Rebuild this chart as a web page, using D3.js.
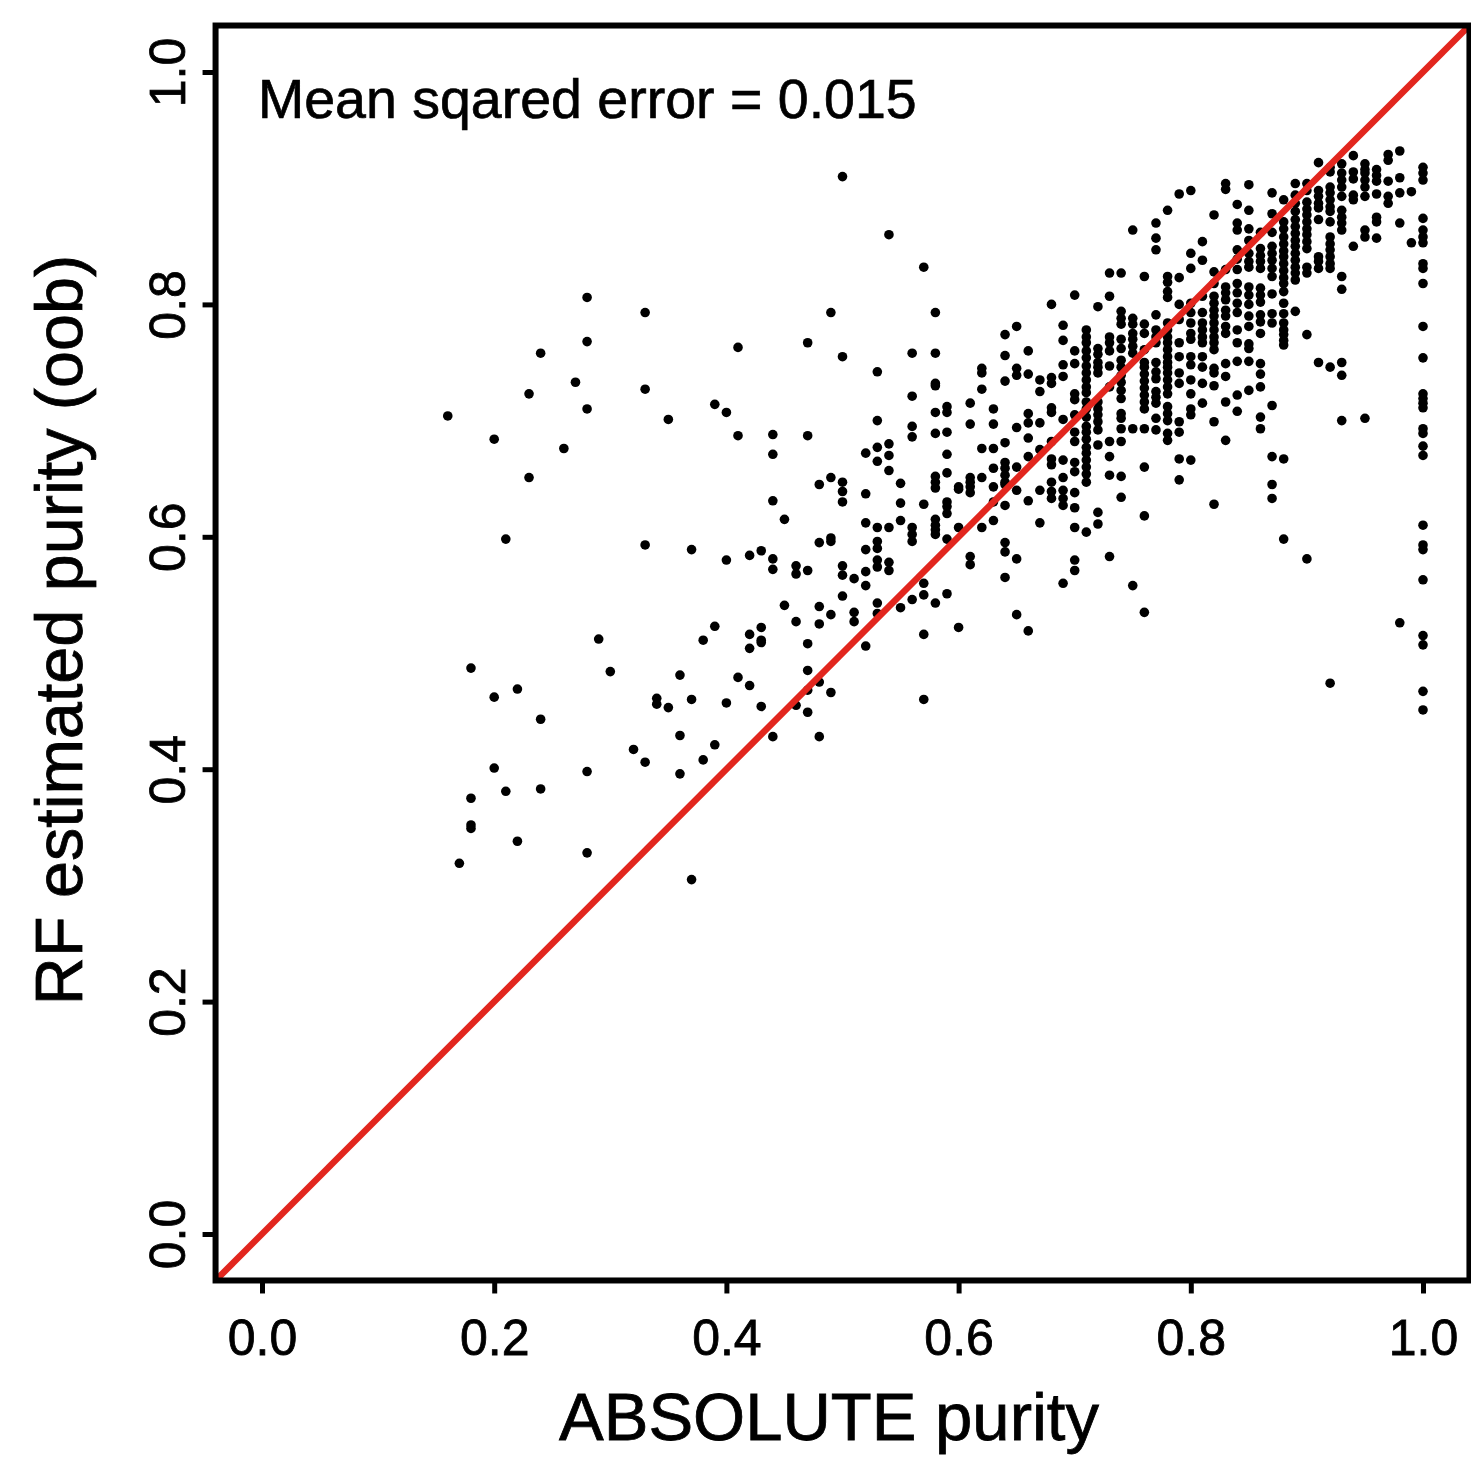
<!DOCTYPE html>
<html>
<head>
<meta charset="utf-8">
<script src="https://cdn.jsdelivr.net/npm/d3@7/dist/d3.min.js"></script>
<style>
  html, body { margin: 0; padding: 0; background: #ffffff; }
  svg { display: block; }
  text { font-family: "Liberation Sans", Arial, Helvetica, sans-serif; }
</style>
</head>
<body>
<svg id="chart" width="1471" height="1464"></svg>
<script>
// ---- data: ABSOLUTE purity levels (x) and RF estimated purity values (y) per level ----
const absoluteLevels = [
  0.16,0.17,0.18,0.20,0.21,0.22,0.23,0.24,0.26,0.27,0.28,0.29,0.30,0.32,0.33,0.34,0.35,0.36,0.37,0.38,
  0.39,0.40,0.41,0.42,0.43,0.44,0.45,0.46,0.47,0.48,0.49,0.50,0.51,0.52,0.53,0.54,0.55,0.56,0.57,0.58,
  0.59,0.60,0.61,0.62,0.63,0.64,0.65,0.66,0.67,0.68,0.69,0.70,0.71,0.72,0.73,0.74,0.75,0.76,0.77,0.78,
  0.79,0.80,0.81,0.82,0.83,0.84,0.85,0.86,0.87,0.88,0.89,0.90,0.91,0.92,0.93,0.94,0.95,0.96,0.97,0.98,
  0.99,1.00
];
const rfEstimates = [
  [0.704],
  [0.319],
  [0.487,0.375,0.352,0.349],
  [0.684,0.462,0.401],
  [0.598,0.381],
  [0.469,0.338],
  [0.723,0.651],
  [0.758,0.443,0.383],
  [0.676],
  [0.733],
  [0.806,0.768,0.710,0.398,0.328],
  [0.512],
  [0.484],
  [0.417],
  [0.793,0.727,0.593,0.406],
  [0.461,0.456],
  [0.701,0.453],
  [0.481,0.429,0.396],
  [0.589,0.460,0.305],
  [0.511,0.408],
  [0.714,0.523,0.421],
  [0.707,0.580,0.457],
  [0.763,0.687,0.479],
  [0.584,0.516,0.504,0.472],
  [0.588,0.522,0.511,0.509,0.454],
  [0.688,0.671,0.631,0.581,0.572,0.428],
  [0.615,0.541],
  [0.575,0.568,0.527,0.455],
  [0.767,0.687,0.571,0.508,0.485,0.468,0.449],
  [0.645,0.595,0.540,0.525,0.475,0.428],
  [0.793,0.651,0.599,0.596,0.533,0.466],
  [0.910,0.755,0.647,0.639,0.630,0.575,0.567,0.549],
  [0.564,0.535,0.527],
  [0.672,0.637,0.612,0.589,0.570,0.558,0.506],
  [0.742,0.700,0.677,0.665,0.608,0.596,0.590,0.580,0.574,0.543,0.534],
  [0.860,0.680,0.670,0.657,0.608,0.578,0.571],
  [0.646,0.629,0.614,0.539],
  [0.758,0.721,0.695,0.686,0.608,0.602,0.596,0.546],
  [0.832,0.628,0.560,0.550,0.516,0.460],
  [0.793,0.758,0.732,0.730,0.707,0.689,0.652,0.647,0.642,0.615,0.610,0.606,0.602,0.543],
  [0.712,0.707,0.690,0.671,0.655,0.630,0.626,0.620,0.598,0.551],
  [0.643,0.641,0.608,0.522],
  [0.715,0.697,0.651,0.647,0.643,0.638,0.583,0.576],
  [0.745,0.741,0.727,0.676,0.651,0.608],
  [0.710,0.697,0.676,0.659,0.643,0.630,0.614],
  [0.774,0.756,0.734,0.681,0.664,0.659,0.653,0.647,0.645,0.627,0.595,0.587,0.565],
  [0.781,0.745,0.739,0.694,0.660,0.640,0.581,0.533],
  [0.760,0.740,0.706,0.698,0.685,0.669,0.631,0.519],
  [0.735,0.725,0.698,0.675,0.640,0.612],
  [0.800,0.737,0.732,0.711,0.707,0.682,0.667,0.662,0.647,0.639,0.633],
  [0.782,0.769,0.748,0.738,0.701,0.666,0.651,0.640,0.633,0.627,0.560],
  [0.808,0.760,0.749,0.723,0.718,0.705,0.690,0.682,0.664,0.656,0.638,0.625,0.608,0.580,0.571],
  [0.778,0.772,0.767,0.760,0.754,0.747,0.741,0.735,0.729,0.724,0.716,0.710,0.703,0.695,0.690,0.684,0.677,0.672,0.666,0.660,0.654,0.647,0.604],
  [0.798,0.762,0.757,0.750,0.746,0.741,0.716,0.710,0.705,0.699,0.692,0.679,0.621,0.611],
  [0.827,0.807,0.772,0.767,0.760,0.747,0.729,0.682,0.669,0.653,0.583],
  [0.827,0.794,0.788,0.783,0.770,0.762,0.752,0.746,0.739,0.733,0.726,0.719,0.706,0.702,0.693,0.682,0.652,0.634],
  [0.864,0.788,0.783,0.775,0.770,0.764,0.758,0.693,0.558],
  [0.824,0.783,0.775,0.761,0.750,0.746,0.740,0.734,0.728,0.722,0.716,0.710,0.693,0.660,0.618,0.535],
  [0.870,0.857,0.847,0.791,0.778,0.772,0.767,0.750,0.742,0.736,0.725,0.720,0.715,0.702,0.692],
  [0.881,0.824,0.819,0.811,0.806,0.784,0.778,0.772,0.767,0.761,0.755,0.750,0.746,0.741,0.735,0.729,0.723,0.712,0.706,0.700,0.689,0.683],
  [0.895,0.823,0.800,0.787,0.767,0.755,0.741,0.732,0.699,0.690,0.667,0.649],
  [0.898,0.844,0.831,0.801,0.793,0.784,0.775,0.770,0.755,0.748,0.735,0.723,0.710,0.705,0.666],
  [0.854,0.838,0.807,0.793,0.784,0.778,0.772,0.767,0.755,0.746,0.732,0.715],
  [0.877,0.828,0.818,0.807,0.801,0.795,0.790,0.784,0.778,0.772,0.767,0.761,0.745,0.741,0.730,0.699,0.628],
  [0.904,0.899,0.830,0.815,0.810,0.804,0.795,0.790,0.781,0.775,0.749,0.738,0.716,0.683],
  [0.886,0.870,0.864,0.847,0.839,0.830,0.818,0.810,0.801,0.793,0.778,0.767,0.751,0.722,0.708],
  [0.903,0.881,0.865,0.855,0.844,0.837,0.832,0.815,0.808,0.800,0.790,0.781,0.766,0.762,0.751,0.726],
  [0.862,0.848,0.842,0.837,0.831,0.814,0.808,0.802,0.791,0.785,0.775,0.749,0.740,0.729,0.703,0.693],
  [0.896,0.878,0.862,0.850,0.844,0.838,0.831,0.824,0.809,0.792,0.784,0.713,0.669,0.645,0.633],
  [0.890,0.871,0.865,0.858,0.852,0.846,0.841,0.835,0.829,0.823,0.818,0.811,0.801,0.792,0.784,0.778,0.774,0.769,0.765,0.667,0.598],
  [0.904,0.894,0.887,0.880,0.873,0.867,0.861,0.855,0.850,0.844,0.838,0.832,0.827,0.821,0.794],
  [0.904,0.898,0.888,0.882,0.877,0.871,0.865,0.860,0.854,0.848,0.832,0.827,0.774,0.581],
  [0.922,0.898,0.893,0.887,0.883,0.873,0.841,0.837,0.831,0.750],
  [0.918,0.914,0.901,0.896,0.890,0.884,0.880,0.871,0.858,0.852,0.847,0.841,0.835,0.831,0.746,0.474],
  [0.921,0.913,0.907,0.901,0.893,0.881,0.875,0.870,0.864,0.824,0.813,0.750,0.739,0.700],
  [0.928,0.914,0.908,0.894,0.890,0.850],
  [0.921,0.916,0.913,0.907,0.901,0.893,0.864,0.858,0.702],
  [0.916,0.911,0.906,0.895,0.875,0.871,0.857],
  [0.929,0.924,0.906,0.893,0.887],
  [0.932,0.909,0.896,0.870,0.526],
  [0.897,0.853],
  [0.918,0.913,0.907,0.874,0.864,0.858,0.853,0.835,0.831,0.818,0.781,0.754,0.723,0.719,0.715,0.711,0.693,0.689,0.678,0.670,0.610,0.593,0.589,0.563,0.515,0.507,0.467,0.451]
];
const xTickValues = [0.0, 0.2, 0.4, 0.6, 0.8, 1.0];
const yTickValues = [0.0, 0.2, 0.4, 0.6, 0.8, 1.0];
const xTitle = "ABSOLUTE purity";
const yTitle = "RF estimated purity (oob)";
const mseLabel = "Mean sqared error = 0.015";
const axisPad = 0.04; // R's default 4% range extension

// ---- build points ----
const points = [];
absoluteLevels.forEach((xv, i) => rfEstimates[i].forEach(yv => points.push({ x: xv, y: yv })));

// ---- scales ----
const x = d3.scaleLinear().domain([0, 1]).range([262, 1423]);
const y = d3.scaleLinear().domain([0, 1]).range([1234, 72]);
const x0 = x(-axisPad), x1 = x(1 + axisPad);
const y0 = y(-axisPad), y1 = y(1 + axisPad);

const svg = d3.select("#chart");
const fontFam = "Liberation Sans, Arial, sans-serif";

svg.append("defs").append("clipPath").attr("id", "plotClip")
  .append("rect").attr("x", x0).attr("y", y1).attr("width", x1 - x0).attr("height", y0 - y1);

// points
svg.append("g").selectAll("circle").data(points).join("circle")
  .attr("cx", d => x(d.x)).attr("cy", d => y(d.y)).attr("r", 4.8).attr("fill", "#000");

// identity line
svg.append("line")
  .attr("clip-path", "url(#plotClip)")
  .attr("x1", x(-axisPad)).attr("y1", y(-axisPad))
  .attr("x2", x(1 + axisPad)).attr("y2", y(1 + axisPad))
  .attr("stroke", "#e2261e").attr("stroke-width", 6.5);

// box
svg.append("rect")
  .attr("x", x0).attr("y", y1).attr("width", x1 - x0).attr("height", y0 - y1)
  .attr("fill", "none").attr("stroke", "#000").attr("stroke-width", 6);

// x axis
const gx = svg.append("g").attr("transform", `translate(0,${y0})`)
  .call(d3.axisBottom(x).tickValues(xTickValues).tickSize(13).tickPadding(26).tickFormat(d3.format(".1f")));
gx.select(".domain").remove();
gx.selectAll(".tick line").attr("stroke", "#000").attr("stroke-width", 5);
gx.selectAll(".tick text").attr("font-size", 50).attr("fill", "#000")
  .attr("stroke", "#000").attr("stroke-width", 0.8)
  .attr("font-family", fontFam);

// y axis
const gy = svg.append("g").attr("transform", `translate(${x0},0)`)
  .call(d3.axisLeft(y).tickValues(yTickValues).tickSize(13).tickFormat(d3.format(".1f")));
gy.select(".domain").remove();
gy.selectAll(".tick line").attr("stroke", "#000").attr("stroke-width", 5);
gy.selectAll(".tick text")
  .attr("x", null).attr("dy", null)
  .attr("font-size", 50).attr("fill", "#000")
  .attr("stroke", "#000").attr("stroke-width", 0.8)
  .attr("font-family", fontFam)
  .attr("text-anchor", "middle")
  .attr("transform", `translate(-31,0) rotate(-90)`);

// axis titles
svg.append("text")
  .attr("x", 829).attr("y", 1440)
  .attr("text-anchor", "middle").attr("font-size", 67).attr("fill", "#000")
  .attr("stroke", "#000").attr("stroke-width", 0.8)
  .text(xTitle);
svg.append("text")
  .attr("transform", "translate(82,630) rotate(-90)")
  .attr("text-anchor", "middle").attr("font-size", 66.5).attr("fill", "#000")
  .attr("stroke", "#000").attr("stroke-width", 0.8)
  .text(yTitle);

// annotation
svg.append("text")
  .attr("x", 258).attr("y", 118)
  .attr("font-size", 55.5).attr("fill", "#000")
  .attr("stroke", "#000").attr("stroke-width", 0.7)
  .text(mseLabel);
</script>
</body>
</html>
